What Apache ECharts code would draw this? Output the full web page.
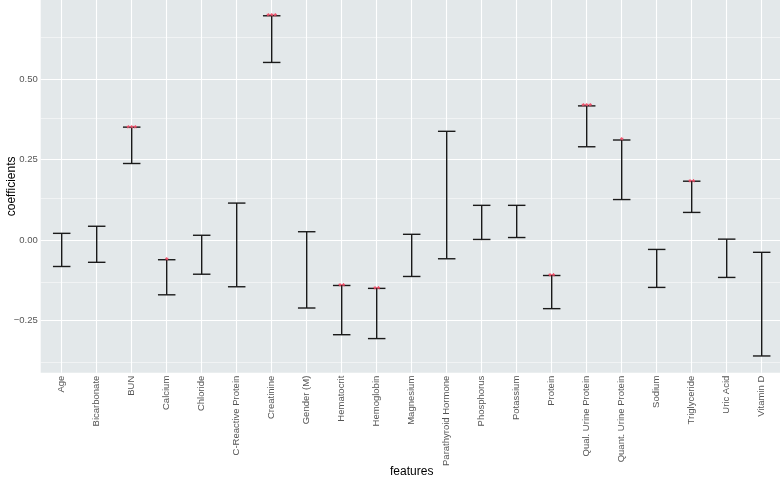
<!DOCTYPE html>
<html>
<head>
<meta charset="utf-8">
<script src="https://cdn.jsdelivr.net/npm/echarts@6/dist/echarts.min.js"></script>
<style>
html,body{margin:0;padding:0;background:#fff;}
#chart{width:780px;height:478px;}
</style>
</head>
<body>
<div id="chart"></div>
<script>
const categories = ['Age','Bicarbonate','BUN','Calcium','Chloride','C-Reactive Protein','Creatinine','Gender (M)','Hematocrit','Hemoglobin','Magnesium','Parathyroid Hormone','Phosphorus','Potassium','Protein','Qual. Urine Protein','Quant. Urine Protein','Sodium','Triglyceride','Uric Acid','Vitamin D'];
const lowerValues = [-0.082,-0.069,0.238,-0.170,-0.106,-0.145,0.552,-0.211,-0.294,-0.306,-0.113,-0.058,0.002,0.008,-0.213,0.290,0.126,-0.147,0.086,-0.116,-0.360];
const upperValues = [0.021,0.043,0.351,-0.061,0.015,0.115,0.697,0.026,-0.141,-0.150,0.018,0.338,0.108,0.108,-0.110,0.417,0.311,-0.029,0.183,0.003,-0.038];
const stars = ['','','***','*','','','***','','**','**','','','','','**','***','*','','**','',''];
const yTicks = [-0.25,0,0.25,0.5];
const yMinor = [-0.375,-0.125,0.125,0.375,0.625];

const xIdx = categories.map((c,i)=>i);
const font = '"Liberation Sans", Arial, Helvetica, sans-serif';

const chart = echarts.init(document.getElementById('chart'), null, {renderer:'canvas'});

const gridLines = [];
xIdx.forEach(i => gridLines.push({xAxis: i, lineStyle:{color:'#ffffff', width:1.1, type:'solid'}}));
yTicks.forEach(v => gridLines.push({yAxis: v, lineStyle:{color:'#ffffff', width:1.1, type:'solid'}}));
yMinor.forEach(v => gridLines.push({yAxis: v, lineStyle:{color:'#ffffff', width:0.55, type:'solid', opacity:0.9}}));

const barData = categories.map((c,i)=>[i, lowerValues[i], upperValues[i], stars[i]]);

chart.setOption({
  animation: false,
  backgroundColor: '#ffffff',
  grid: {left: 40.7, top: 0, width: 742, height: 372.7, show: true, backgroundColor: '#E3E8EA', borderWidth: 0,
    containLabel: false, outerBoundsMode: 'none'},
  xAxis: {
    type: 'value', min: -0.6, max: 20.6,
    name: 'features', nameLocation: 'middle', nameGap: 93, nameMoveOverlap: false,
    nameTextStyle: {fontFamily: font, fontSize: 12, color: '#000'},
    axisLine: {show: false},
    splitLine: {show: false},
    axisTick: {show: true, customValues: xIdx, length: 3, lineStyle: {color: '#4d4d4d', width: 1}},
    axisLabel: {customValues: xIdx, rotate: 90, margin: 3, fontFamily: font, fontSize: 9.5, color: '#555555',
      formatter: v => categories[Math.round(v)] || ''}
  },
  yAxis: {
    type: 'value', min: -0.412, max: 0.746,
    name: 'coefficients', nameLocation: 'middle', nameGap: 23, nameRotate: 90, nameMoveOverlap: false,
    nameTextStyle: {fontFamily: font, fontSize: 12, color: '#000'},
    axisLine: {show: false},
    splitLine: {show: false},
    axisTick: {show: true, customValues: yTicks, length: 3, lineStyle: {color: '#4d4d4d', width: 1}},
    axisLabel: {customValues: yTicks, margin: 3, fontFamily: font, fontSize: 9.5, color: '#555555',
      formatter: v => (v < 0 ? '\u2212' : '') + Math.abs(v).toFixed(2)}
  },
  series: [
    {
      type: 'line', data: [], silent: true, z: 1,
      markLine: {silent: true, z: 1, symbol: ['none','none'], label: {show: false}, animation: false, data: gridLines}
    },
    {
      type: 'custom', z: 10, silent: true,
      data: barData,
      renderItem: function(params, api) {
        const x = api.value(0);
        const lo = api.coord([x, api.value(1)]);
        const hi = api.coord([x, api.value(2)]);
        const half = api.size([1, 0])[0] * 0.25;
        const st = {stroke: '#1a1a1a', lineWidth: 1.4};
        const children = [
          {type:'line', shape:{x1:hi[0], y1:hi[1], x2:lo[0], y2:lo[1]}, style: st},
          {type:'line', shape:{x1:hi[0]-half, y1:hi[1], x2:hi[0]+half, y2:hi[1]}, style: st},
          {type:'line', shape:{x1:lo[0]-half, y1:lo[1], x2:lo[0]+half, y2:lo[1]}, style: st}
        ];
        const s = barData[params.dataIndex][3];
        if (s) {
          children.push({type:'text', x: hi[0], y: hi[1] + 1, z2: 5,
            style: {text: s, fill: '#F0506A', font: 'bold 9px ' + font, textAlign: 'center', textVerticalAlign: 'middle'}});
        }
        return {type:'group', children: children};
      }
    }
  ]
});
</script>
</body>
</html>
